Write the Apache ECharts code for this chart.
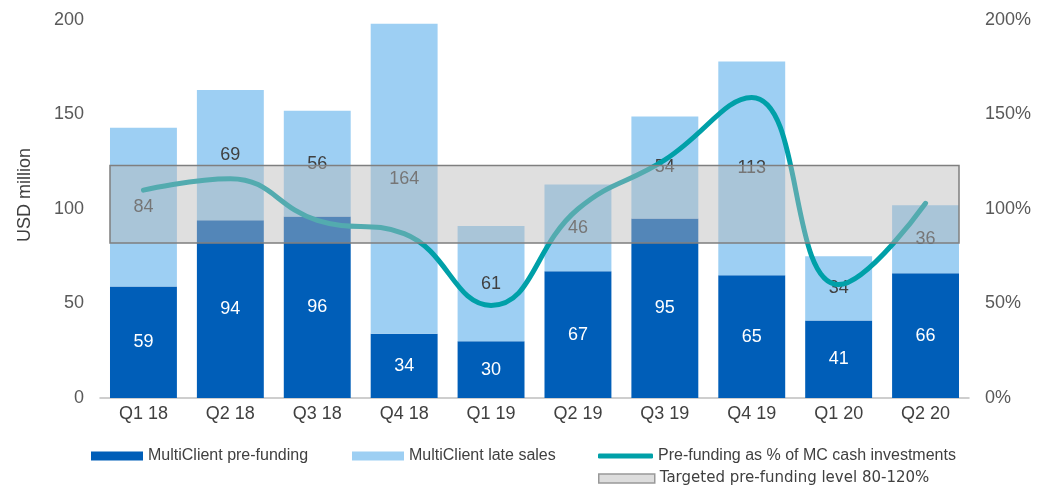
<!DOCTYPE html>
<html>
<head>
<meta charset="utf-8">
<script src="https://cdn.jsdelivr.net/npm/echarts@6/dist/echarts.min.js"></script>
<style>html,body{margin:0;padding:0;background:#fff}#c{width:1054px;height:488px}</style>
</head>
<body>
<div id="c"></div>
<script>
const categories = ['Q1 18','Q2 18','Q3 18','Q4 18','Q1 19','Q2 19','Q3 19','Q4 19','Q1 20','Q2 20'];
const preFunding = [59, 94, 96, 34, 30, 67, 95, 65, 41, 66];
const lateSales = [84, 69, 56, 164, 61, 46, 54, 113, 34, 36];
const prefundingPct = [110, 116, 94, 87, 49, 100, 126, 159, 60, 103];
const targetBand = [82, 123];
const leftTicks = [0, 50, 100, 150, 200];
const rightTicks = [0, 50, 100, 150, 200];

const BAR_FRAC = 0.77;
const FONT = '"Liberation Sans", Arial, sans-serif';
const chart = echarts.init(document.getElementById('c'));
const legendText = {fontFamily: FONT, fontSize: 16, color: '#404040'};

chart.setOption({
  animation: false,
  grid: {left: 100, right: 85, top: 20, bottom: 90},
  legend: [
    {data: ['MultiClient pre-funding'], left: 86, top: 443, itemWidth: 52, itemHeight: 9, icon: 'rect', textStyle: legendText, selectedMode: false},
    {data: ['MultiClient late sales'], left: 347, top: 443, itemWidth: 52, itemHeight: 9, icon: 'rect', textStyle: legendText, selectedMode: false},
    {data: [{name: 'Pre-funding as % of MC cash investments', icon: 'roundRect'}], left: 593, top: 443, itemWidth: 55, itemHeight: 5, textStyle: legendText, selectedMode: false},
    {data: [{name: 'Targeted pre-funding level 80-120%', icon: 'rect', itemStyle: {color: '#DDDDDD', borderColor: '#999999', borderWidth: 1.5}}], left: 593, top: 466, itemWidth: 56, itemHeight: 9, textStyle: {fontFamily: '"DejaVu Sans", sans-serif', fontSize: 15, color: '#404040'}, selectedMode: false}
  ],
  xAxis: {
    type: 'category', data: categories,
    axisLine: {lineStyle: {color: '#BFBFBF', width: 1.5}},
    axisTick: {show: false},
    axisLabel: {fontFamily: FONT, fontSize: 18, color: '#404040', margin: 7}
  },
  yAxis: [
    {type: 'value', min: leftTicks[0], max: leftTicks[leftTicks.length-1], interval: 50,
     name: 'USD million', nameLocation: 'middle', nameGap: 66, nameRotate: 90,
     nameTextStyle: {fontFamily: FONT, fontSize: 18, color: '#404040', padding: [0, 0, 0, 28]},
     axisLine: {show: false}, axisTick: {show: false}, splitLine: {show: false},
     axisLabel: {fontFamily: FONT, fontSize: 18, color: '#595959', margin: 16}},
    {type: 'value', min: rightTicks[0], max: rightTicks[rightTicks.length-1], interval: 50,
     axisLine: {show: false}, axisTick: {show: false}, splitLine: {show: false},
     axisLabel: {fontFamily: FONT, fontSize: 18, color: '#595959', margin: 16, formatter: '{value}%'}}
  ],
  series: [
    {name: 'MultiClient pre-funding', type: 'bar', stack: 'mc', data: preFunding, barWidth: (BAR_FRAC*100)+'%',
     itemStyle: {color: '#005EB8'}, z: 2,
     label: {show: true, position: 'inside', color: '#FFFFFF', fontFamily: FONT, fontSize: 18}},
    {name: 'MultiClient late sales', type: 'bar', stack: 'mc', data: lateSales, barWidth: (BAR_FRAC*100)+'%',
     itemStyle: {color: '#9DCFF3'}, z: 2,
     label: {show: true, position: 'inside', color: '#404040', fontFamily: FONT, fontSize: 18}},
    {name: 'Pre-funding as % of MC cash investments', type: 'line', yAxisIndex: 1, data: prefundingPct,
     smooth: 0.45, showSymbol: false, symbol: 'none', z: 4,
     lineStyle: {color: '#00A0A8', width: 5, cap: 'round'}, itemStyle: {color: '#00A0A8'}},
    {name: 'Targeted pre-funding level 80-120%', type: 'custom', yAxisIndex: 1, z: 10,
     itemStyle: {color: '#DDDDDD', borderColor: '#999999'},
     data: [[0, categories.length - 1, targetBand[0], targetBand[1]]],
     encode: {x: [0, 1], y: [2, 3]},
     renderItem: function (params, api) {
       const bw = api.size([1, 0])[0];
       const half = bw * BAR_FRAC / 2;
       const p0 = api.coord([api.value(0), api.value(3)]);
       const p1 = api.coord([api.value(1), api.value(2)]);
       return {type: 'rect', z2: 100,
         shape: {x: p0[0] - half, y: p0[1], width: p1[0] - p0[0] + 2 * half, height: p1[1] - p0[1]},
         style: {fill: 'rgba(184,184,184,0.45)', stroke: '#7F7F7F', lineWidth: 1.5}};
     }}
  ]
});
</script>
</body>
</html>
